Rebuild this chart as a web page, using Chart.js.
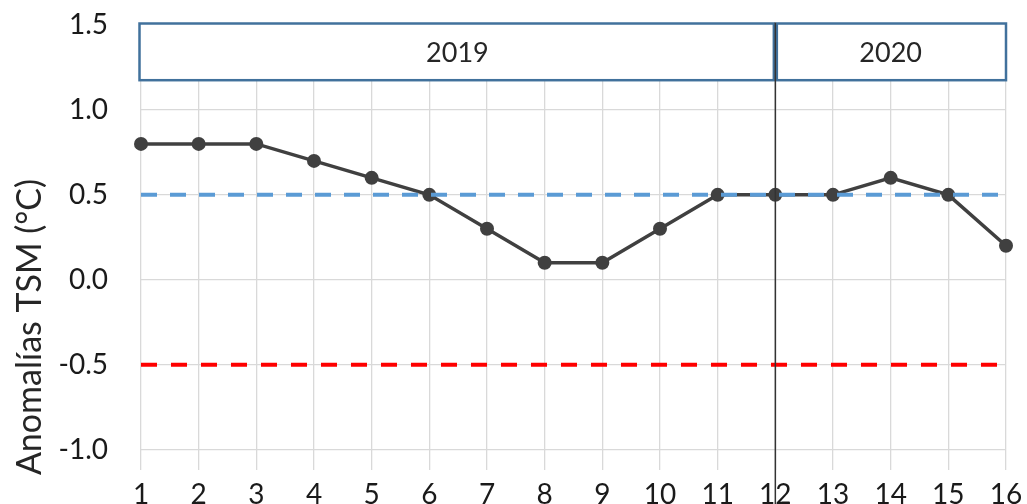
<!DOCTYPE html>
<html>
<head>
<meta charset="utf-8">
<script src="https://cdn.jsdelivr.net/npm/chart.js@4"></script>
<style>
  html, body { margin: 0; padding: 0; background: #fff; overflow: hidden; }
  #wrap { width: 1027px; height: 504px; }
</style>
</head>
<body>
<div id="wrap"><canvas id="chart" width="1027" height="504"></canvas></div>
<script>
// months along the x axis (Jan 2019 .. Apr 2020)
const months = [1, 2, 3, 4, 5, 6, 7, 8, 9, 10, 11, 12, 13, 14, 15, 16];
const anomalies = [0.8, 0.8, 0.8, 0.7, 0.6, 0.5, 0.3, 0.1, 0.1, 0.3, 0.5, 0.5, 0.5, 0.6, 0.5, 0.2];
const yTicks = [-1.0, -0.5, 0.0, 0.5, 1.0, 1.5];
const warmLimit = 0.5;
const coldLimit = -0.5;
// year bands shown on top of the plot
const years = ["2019", "2020"];
const yearStart = [1, 12];
const yearEnd = [12, 16];
const yearSplit = 12;
const yTitle = "Anomalías TSM (°C)";

const FONT = "Lato, 'Open Sans', sans-serif";

const yearBoxes = {
    id: "yearBoxes",
    afterDraw(chart) {
        const { ctx, scales: { x, y }, chartArea } = chart;
        ctx.save();
        const top = chartArea.top - 1.5;
        const bottom = y.getPixelForValue(1.175);
        years.forEach((label, i) => {
            let l = x.getPixelForValue(yearStart[i]);
            const r = x.getPixelForValue(yearEnd[i]);
            if (i === 0) l -= 1.5;
            ctx.fillStyle = "#fff";
            ctx.fillRect(l, top, r - l, bottom - top);
            ctx.strokeStyle = "#41719c";
            ctx.lineWidth = 2.5;
            ctx.strokeRect(l + (i === 0 ? 0 : 1.5), top, r - l - 1.5, bottom - top);
            ctx.fillStyle = "#262626";
            ctx.font = "27px " + FONT;
            ctx.textAlign = "center";
            ctx.textBaseline = "middle";
            ctx.fillText(label, (l + r) / 2, (top + bottom) / 2 + 1);
        });
        // split line between the years
        const sx = x.getPixelForValue(yearSplit);
        ctx.strokeStyle = "#333";
        ctx.lineWidth = 1.5;
        ctx.beginPath();
        ctx.moveTo(sx, top - 1);
        ctx.lineTo(sx, chart.height);
        ctx.stroke();

        // y axis title
        ctx.translate(30, 327);
        ctx.rotate(-Math.PI / 2);
        ctx.fillStyle = "#262626";
        ctx.font = "34px " + FONT;
        ctx.textAlign = "center";
        ctx.textBaseline = "middle";
        ctx.fillText(yTitle, 0, 0);
        ctx.restore();
    }
};

const ctx = document.getElementById("chart").getContext("2d");

new Chart(ctx, {
    type: "line",
    data: {
        datasets: [{
            label: "Anomalías",
            data: months.map((m, i) => ({ x: m, y: anomalies[i] })),
            borderColor: "#404040",
            backgroundColor: "#404040",
            borderWidth: 3.5,
            pointRadius: 7,
            pointBorderWidth: 0,
            tension: 0,
            clip: false,
            order: 2
        }, {
            label: "warm",
            data: [{ x: months[0], y: warmLimit }, { x: months[months.length - 1], y: warmLimit }],
            borderColor: "#5b9bd5",
            borderWidth: 4,
            borderDash: [16, 13],
            pointRadius: 0,
            clip: false,
            order: 1
        }, {
            label: "cold",
            data: [{ x: months[0], y: coldLimit }, { x: months[months.length - 1], y: coldLimit }],
            borderColor: "#ff0000",
            borderWidth: 4,
            borderDash: [16, 14],
            pointRadius: 0,
            clip: false,
            order: 1
        }]
    },
    options: {
        responsive: false,
        animation: false,
        layout: { padding: { top: 25, right: 21, left: 0, bottom: 0 } },
        plugins: { legend: { display: false }, tooltip: { enabled: false } },
        scales: {
            x: {
                type: "linear",
                min: 1,
                max: 16,
                afterBuildTicks: s => { s.ticks = months.map(v => ({ value: v })); },
                afterFit: s => { s.height = 34; },
                ticks: { color: "#1a1a1a", font: { size: 28, family: FONT }, padding: 0, maxRotation: 0 },
                grid: { color: "#d9d9d9", lineWidth: 1.3, drawTicks: true, tickLength: 8, tickColor: "rgba(0,0,0,0)" },
                border: { display: false }
            },
            y: {
                min: -1.12,
                max: 1.5,
                afterBuildTicks: s => { s.ticks = yTicks.map(v => ({ value: v })); },
                afterFit: s => { s.width = 141; },
                ticks: {
                    color: "#1a1a1a",
                    font: { size: 28, family: FONT },
                    padding: 0,
                    callback: v => v.toFixed(1)
                },
                grid: { color: "#d9d9d9", lineWidth: 1.3, drawTicks: true, tickLength: 33, tickColor: "rgba(0,0,0,0)" },
                border: { display: false }
            }
        }
    },
    plugins: [yearBoxes]
});
</script>
</body>
</html>
